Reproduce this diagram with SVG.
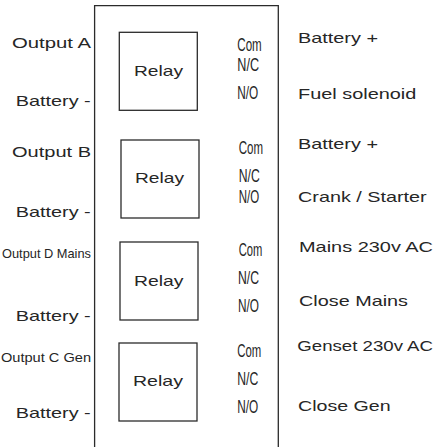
<svg xmlns="http://www.w3.org/2000/svg" width="448" height="447" viewBox="0 0 448 447">
<style>
.ln{fill:none;stroke:#2b2b2b;stroke-width:1.3}
.box{fill:#fff;stroke:#2b2b2b;stroke-width:1.3}
text{font-family:"Liberation Sans",Arial,sans-serif;fill:#262626}
.lbl{font-size:15px}
.sm{font-size:13px}
.pin{font-size:17.5px}
</style>
<rect width="448" height="447" fill="#fff"/>
<g id="panel">
<path class="ln" d="M94.6,448 V5.6 H278.3 V448"/>
</g>
<g id="relay1">
<rect class="box" x="119.3" y="32.3" width="78" height="78"/>
<text class="lbl" x="134" y="76" textLength="49" lengthAdjust="spacingAndGlyphs">Relay</text>
</g>
<g id="relay2">
<rect class="box" x="121" y="140" width="78" height="78"/>
<text class="lbl" x="135" y="183.3" textLength="49" lengthAdjust="spacingAndGlyphs">Relay</text>
</g>
<g id="relay3">
<rect class="box" x="120" y="242" width="78" height="78"/>
<text class="lbl" x="134" y="285.7" textLength="49.5" lengthAdjust="spacingAndGlyphs">Relay</text>
</g>
<g id="relay4">
<rect class="box" x="119" y="343" width="78" height="78"/>
<text class="lbl" x="133" y="386.3" textLength="50" lengthAdjust="spacingAndGlyphs">Relay</text>
</g>
<g id="left-labels">
<text class="lbl" x="12" y="47.7" textLength="79" lengthAdjust="spacingAndGlyphs">Output A</text>
<text class="lbl" x="15.7" y="106.3" textLength="75" lengthAdjust="spacingAndGlyphs">Battery -</text>
<text class="lbl" x="12" y="156.7" textLength="79" lengthAdjust="spacingAndGlyphs">Output B</text>
<text class="lbl" x="15.7" y="216.7" textLength="75" lengthAdjust="spacingAndGlyphs">Battery -</text>
<text class="sm" x="2" y="258.3" textLength="89" lengthAdjust="spacingAndGlyphs">Output D Mains</text>
<text class="lbl" x="15.7" y="320.7" textLength="75" lengthAdjust="spacingAndGlyphs">Battery -</text>
<text class="sm" x="1" y="362.3" textLength="90" lengthAdjust="spacingAndGlyphs">Output C Gen</text>
<text class="lbl" x="15.7" y="418" textLength="75" lengthAdjust="spacingAndGlyphs">Battery -</text>
</g>
<g id="pins">
<text class="pin" x="237.3" y="50.7" textLength="24.4" lengthAdjust="spacingAndGlyphs">Com</text>
<text class="pin" x="237.3" y="71.3" textLength="21.7" lengthAdjust="spacingAndGlyphs">N/C</text>
<text class="pin" x="237.3" y="99.3" textLength="21" lengthAdjust="spacingAndGlyphs">N/O</text>
<text class="pin" x="238.7" y="154.3" textLength="24.3" lengthAdjust="spacingAndGlyphs">Com</text>
<text class="pin" x="238.7" y="181.7" textLength="21" lengthAdjust="spacingAndGlyphs">N/C</text>
<text class="pin" x="238.7" y="202.7" textLength="20.5" lengthAdjust="spacingAndGlyphs">N/O</text>
<text class="pin" x="238.7" y="255.7" textLength="23.6" lengthAdjust="spacingAndGlyphs">Com</text>
<text class="pin" x="238" y="284" textLength="21" lengthAdjust="spacingAndGlyphs">N/C</text>
<text class="pin" x="238" y="312.3" textLength="21" lengthAdjust="spacingAndGlyphs">N/O</text>
<text class="pin" x="237.3" y="357.3" textLength="24" lengthAdjust="spacingAndGlyphs">Com</text>
<text class="pin" x="237.3" y="384.7" textLength="21" lengthAdjust="spacingAndGlyphs">N/C</text>
<text class="pin" x="237.3" y="413" textLength="21" lengthAdjust="spacingAndGlyphs">N/O</text>
</g>
<g id="right-labels">
<text class="lbl" x="298" y="43.3" textLength="80" lengthAdjust="spacingAndGlyphs">Battery +</text>
<text class="lbl" x="298" y="99" textLength="118.3" lengthAdjust="spacingAndGlyphs">Fuel solenoid</text>
<text class="lbl" x="298" y="149.3" textLength="80" lengthAdjust="spacingAndGlyphs">Battery +</text>
<text class="lbl" x="298" y="201.7" textLength="128.7" lengthAdjust="spacingAndGlyphs">Crank / Starter</text>
<text class="lbl" x="299" y="251.7" textLength="134" lengthAdjust="spacingAndGlyphs">Mains 230v AC</text>
<text class="lbl" x="299" y="306" textLength="109" lengthAdjust="spacingAndGlyphs">Close Mains</text>
<text class="lbl" x="297.3" y="350.7" textLength="135.7" lengthAdjust="spacingAndGlyphs">Genset 230v AC</text>
<text class="lbl" x="298" y="410.7" textLength="92.7" lengthAdjust="spacingAndGlyphs">Close Gen</text>
</g>
</svg>
